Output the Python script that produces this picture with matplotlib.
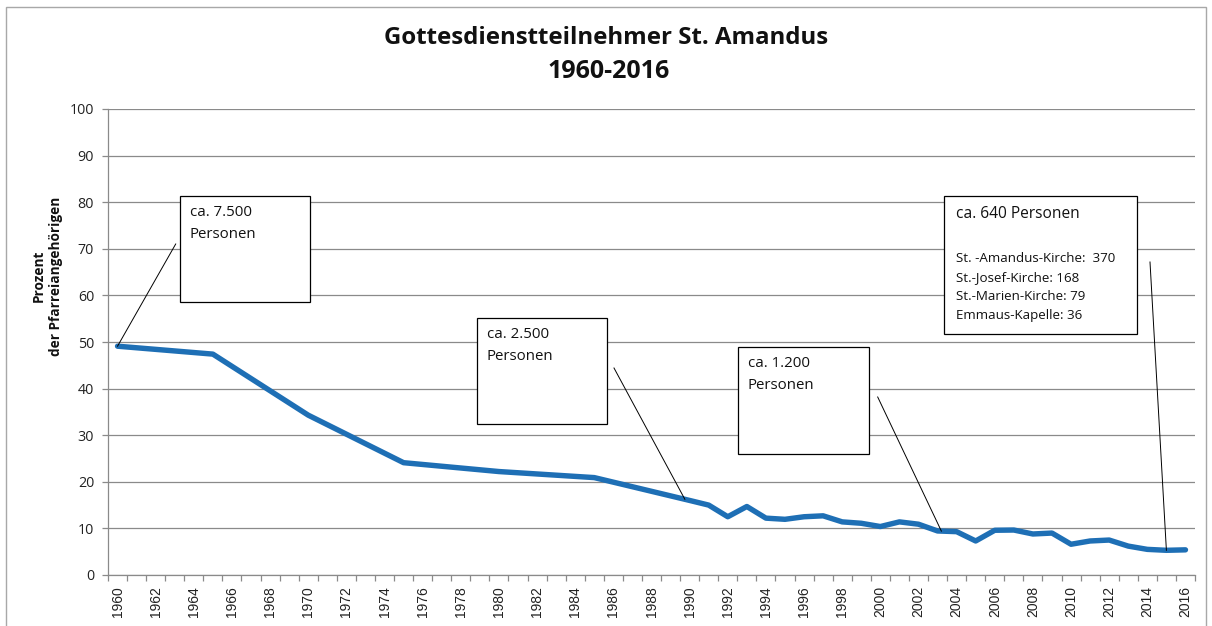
import matplotlib
matplotlib.use("Agg")
import matplotlib.pyplot as plt
import matplotlib.patches as mpatches
import numpy as np

# ---- data ----
years = [1960, 1965, 1970, 1975, 1980, 1985, 1990, 1991, 1992, 1993, 1994, 1995,
         1996, 1997, 1998, 1999, 2000, 2001, 2002, 2003, 2004, 2005, 2006, 2007,
         2008, 2009, 2010, 2011, 2012, 2013, 2014, 2015, 2016]
percent = [49.1, 47.4, 34.3, 24.1, 22.2, 20.9, 16.0, 15.0, 12.5, 14.7, 12.2, 11.95,
           12.5, 12.7, 11.4, 11.1, 10.4, 11.4, 10.9, 9.45, 9.3, 7.3, 9.6, 9.65,
           8.8, 9.0, 6.6, 7.3, 7.5, 6.2, 5.5, 5.3, 5.4]
tick_years = list(range(1960, 2017, 2))
title_lines = ["Gottesdienstteilnehmer St. Amandus", "1960-2016"]
ylabel_text = "Prozent\nder Pfarreiangehörigen"
callout_texts = ["ca. 7.500\nPersonen", "ca. 2.500\nPersonen", "ca. 1.200\nPersonen"]
callout_anchor_years = [1960, 1989.75, 2003.2]
big_head = "ca. 640 Personen"
big_lines = ["St. -Amandus-Kirche:  370", "St.-Josef-Kirche: 168",
             "St.-Marien-Kirche: 79", "Emmaus-Kapelle: 36"]
big_anchor_year = 2015

FONT = "Open Sans"
W, H = 1212, 626
fig = plt.figure(figsize=(W / 100, H / 100), dpi=100)
fig.patch.set_facecolor("white")

# axes placement in pixels
L, R, T, B = 108, 1195, 109, 575
ax = fig.add_axes([L / W, 1 - B / H, (R - L) / W, (B - T) / H])

line_color = "#1e6fb5"
ax.plot(years, percent, color=line_color, lw=3.9, solid_joinstyle="round",
        solid_capstyle="round", zorder=4)

ax.set_xlim(1959.5, 2016.5)
ax.set_ylim(0, 100)
ax.set_yticks(np.arange(0, 101, 10))
ax.set_xticks(tick_years)
ax.set_xticklabels([str(y) for y in tick_years], rotation=90,
                   fontfamily="Liberation Sans", fontsize=10, color="#222222")
ax.set_xticks(np.arange(1959.5, 2017, 1.0), minor=True)
ax.tick_params(axis="x", which="major", length=0, pad=8)
ax.tick_params(axis="x", which="minor", length=4, width=0.9, color="#8a8a8a",
               direction="out")
ax.tick_params(axis="y", length=4, width=0.9, color="#8a8a8a", pad=6,
               labelsize=10.3, labelcolor="#222222")
for lab in ax.get_yticklabels():
    lab.set_fontfamily(FONT)

ax.grid(axis="y", color="#8a8a8a", lw=0.9)
ax.set_axisbelow(True)
for s in ["top", "right"]:
    ax.spines[s].set_visible(False)
for s in ["left", "bottom"]:
    ax.spines[s].set_color("#8a8a8a")
    ax.spines[s].set_linewidth(0.9)

# helper: pixel -> data
def px2data(px, py):
    x = 1959.5 + (px - L) / ((R - L) / 57.0)
    y = (B - py) / ((B - T) / 100.0)
    return x, y

def box(px0, py0, px1, py1):
    x0, y1 = px2data(px0, py0)
    x1, y0 = px2data(px1, py1)
    rect = mpatches.Rectangle((x0, y0), x1 - x0, y1 - y0, facecolor="white",
                              edgecolor="black", lw=0.9, zorder=6)
    ax.add_patch(rect)
    return x0, y1

def leader(px, py, year):
    xs, ys = px2data(px, py)
    ya = float(np.interp(year, years, percent))
    ax.plot([xs, year], [ys, ya], color="black", lw=0.7, zorder=5)

# small callouts
small_boxes = [(180, 196, 310, 302), (477, 318, 607, 424), (738, 347, 869, 454)]
leader_starts = [(175.7, 244), (614, 368), (877.7, 397)]
for (bx0, by0, bx1, by1), txt, ls, ay in zip(small_boxes, callout_texts,
                                              leader_starts, callout_anchor_years):
    x0, ytop = box(bx0, by0, bx1, by1)
    ax.annotate(txt, (x0, ytop), xytext=(7, -6.5), textcoords="offset points",
                ha="left", va="top", fontsize=10.8, fontfamily=FONT,
                color="#111111", linespacing=1.6, zorder=7)
    leader(ls[0], ls[1], ay)

# big callout
x0, ytop = box(944, 196, 1137, 334)
ax.annotate(big_head, (x0, ytop), xytext=(9, -7), textcoords="offset points",
            ha="left", va="top", fontsize=11.2, fontfamily=FONT, color="#111111",
            zorder=7)
ax.annotate("\n".join(big_lines), (x0, ytop), xytext=(9, -40.5),
            textcoords="offset points", ha="left", va="top", fontsize=9.6,
            fontfamily=FONT, color="#111111", linespacing=1.6, zorder=7)
leader(1150, 262, big_anchor_year)

# titles
fig.text(0.5, 1 - 38 / H, title_lines[0], ha="center", va="center",
         fontsize=17.3, fontweight="bold", fontfamily=FONT, color="#111111")
fig.text(609 / W, 1 - 71 / H, title_lines[1], ha="center", va="center",
         fontsize=18, fontweight="bold", fontfamily=FONT, color="#111111")

# y label
fig.text(47.5 / W, 1 - 276 / H, ylabel_text, rotation=90, ha="center", va="center",
         multialignment="center", fontsize=9.8, fontweight="bold",
         fontfamily=FONT, color="#111111", linespacing=1.25)

# chart border
fig.patches.append(mpatches.Rectangle((6 / W, -0.05), 1200 / W, 1.05 - 7 / H,
                                      transform=fig.transFigure, fill=False,
                                      edgecolor="#a8a8a8", lw=1.0))

fig.savefig("out.png", dpi=100, facecolor="white")
